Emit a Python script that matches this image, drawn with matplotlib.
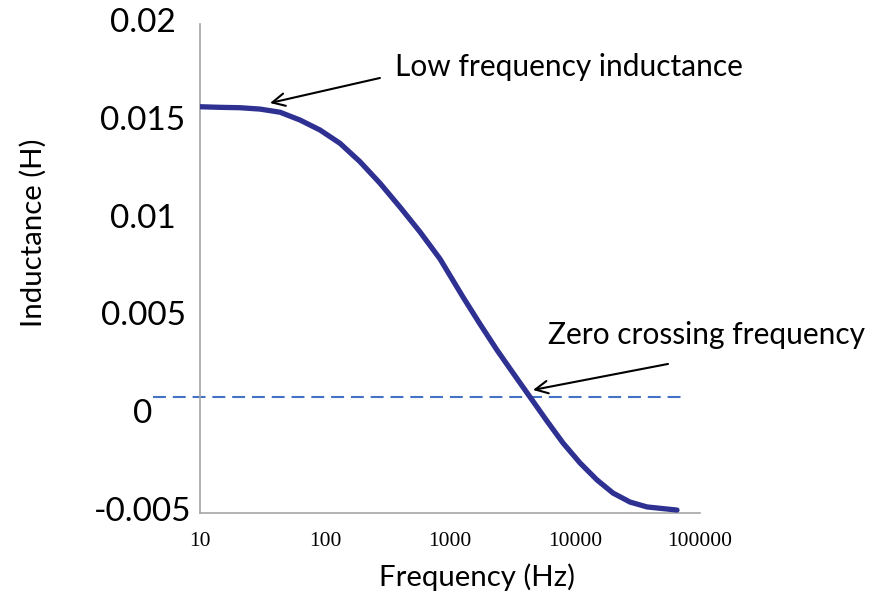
import numpy as np
import matplotlib
matplotlib.use("Agg")
import matplotlib.pyplot as plt
from matplotlib.transforms import ScaledTranslation

# Data
freq = [10, 14.45, 20.89, 30.2, 43.65, 63.1, 91.2, 131.8, 190.5, 275.4, 398.1, 575.4,
        831.8, 1270.6, 1737.8, 2376.8, 3191.5, 4365.2, 5970.4, 8016.7, 10965, 14997,
        20137, 27542, 37670, 65464]
inductance = [0.01577, 0.01574, 0.01572, 0.01565, 0.01549, 0.01509, 0.01458, 0.01390,
              0.01296, 0.01186, 0.01064, 0.00937, 0.00799, 0.00604, 0.00466, 0.00333,
              0.00216, 0.00093, -0.00030, -0.00142, -0.00244, -0.00331, -0.00398,
              -0.00444, -0.00469, -0.00485]
zero_line_x = [4.2, 73100]
zero_line_y = [0.00093, 0.00093]
xticks = [10, 100, 1000, 10000, 100000]
xtick_labels = ["10", "100", "1000", "10000", "100000"]
yticks = [-0.005, 0, 0.005, 0.01, 0.015, 0.02]
ytick_labels = ["-0.005", "0", "0.005", "0.01", "0.015", "0.02"]

sans = ["Lato", "DejaVu Sans"]
serif = ["Liberation Serif", "DejaVu Serif"]

fig = plt.figure(figsize=(8.76, 5.92), dpi=100)
ax = fig.add_axes([200/876, 1-513/592, 500/876, (513-24)/592])

ax.plot(freq, inductance, color="#2E3192", lw=3.8, solid_capstyle="round",
        solid_joinstyle="round", zorder=3)
ax.plot(zero_line_x, zero_line_y, color="#4472C4", lw=1.5, dashes=(6.2, 3.3), clip_on=False, zorder=2)

ax.set_xscale("log")
ax.set_xlim(10, 100000)
ax.set_ylim(-0.005, 0.02)
ax.set_xticks(xticks)
ax.set_xticklabels(xtick_labels, fontfamily=serif, fontsize=15.5)
ax.minorticks_off()
ax.set_yticks(yticks)
ax.set_yticklabels(ytick_labels, fontfamily=sans, fontsize=24, ha="center")
ax.tick_params(axis="x", length=0, pad=14)
ax.tick_params(axis="y", length=0, pad=41)
for lab in ax.get_yticklabels():
    lab.set_transform(lab.get_transform() + ScaledTranslation(0, 4/100, fig.dpi_scale_trans))

for s in ["top", "right"]:
    ax.spines[s].set_visible(False)
for s in ["left", "bottom"]:
    ax.spines[s].set_color("#A6A6A6")
    ax.spines[s].set_linewidth(1.2)

fig.text(477/876, 1-577/592, "Frequency (Hz)", ha="center", va="center", fontfamily=sans, fontsize=21.2)
fig.text(33/876, 1-233/592, "Inductance (H)", ha="center", va="center", rotation=90, fontfamily=sans, fontsize=21.2)

# annotations
arrow = dict(arrowstyle="->,head_length=0.9,head_width=0.45", color="black", lw=1.5, shrinkA=0, shrinkB=0)
ax.annotate("", xy=(36.3, 0.01596), xytext=(275, 0.01724), arrowprops=arrow)
ax.annotate("", xy=(4613, 0.00129), xytext=(55460, 0.00262), arrowprops=arrow)
ax.text(363, 0.0178, "Low frequency inductance", ha="left", va="center", fontfamily=sans, fontsize=21.5, clip_on=False)
ax.text(6080, 0.0041, "Zero crossing frequency", ha="left", va="center", fontfamily=sans, fontsize=21.5, clip_on=False)

fig.savefig("out.png", dpi=100)
